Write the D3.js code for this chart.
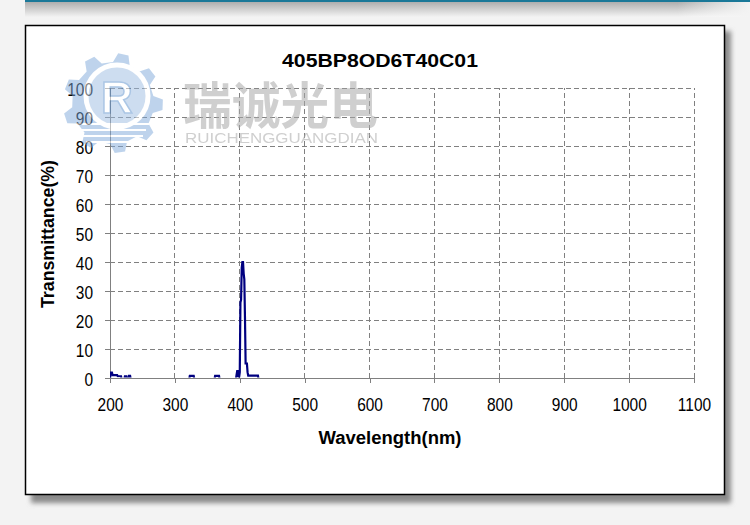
<!DOCTYPE html>
<html><head><meta charset="utf-8">
<script src="https://cdn.jsdelivr.net/npm/d3@7"></script>
<style>html,body{margin:0;padding:0;background:#f3f3f3;overflow:hidden} svg{display:block}</style>
</head><body><svg id="c" width="750" height="525"></svg>
<script>
const chartTitle = "405BP8OD6T40C01";
const xTitle = "Wavelength(nm)";
const yTitle = "Transmittance(%)";
const xTicks = [200, 300, 400, 500, 600, 700, 800, 900, 1000, 1100];
const yTicks = [0, 10, 20, 30, 40, 50, 60, 70, 80, 90, 100];
const wavelength = [200, 201, 203, 204, 211, 212, 217, 218, 222, 223, 225, 226, 228, 229, 231, 232,
  322, 323, 329, 330, 361, 362, 368, 369, 394, 395, 396, 397, 398, 399,
  400, 401, 402, 403, 404, 405, 406, 407, 408, 409, 411, 412, 413, 428, 429, 1100];
const transmittance = [-0.5, 1.9, 1.9, 1.0, 1.0, 0.6, 0.6, -0.5, -0.5, 0.6, 0.6, -0.5, -0.5, 0.7, 0.7, -0.5,
  -0.5, 0.7, 0.7, -0.5, -0.5, 0.7, 0.7, -0.5, -0.5, 1.0, 2.4, 2.4, 0.5, 0.3,
  2, 26, 27, 38, 40, 40, 36, 34, 21, 5, 5, 2, 0.8, 0.8, -0.5, -0.5];
const watermarkCN = "瑞诚光电";
const watermarkEN = "RUICHENGGUANGDIAN";

const svg = d3.select("#c");
const defs = svg.append("defs");

// page background decoration
const tg = defs.append("linearGradient").attr("id","topg").attr("x1",0).attr("y1",0).attr("x2",0).attr("y2",1);
tg.append("stop").attr("offset","0%").attr("stop-color","#a9a9a9");
tg.append("stop").attr("offset","100%").attr("stop-color","#f3f3f3");
const tgh = defs.append("linearGradient").attr("id","topfade").attr("x1",0).attr("y1",0).attr("x2",1).attr("y2",0);
tgh.append("stop").attr("offset","0%").attr("stop-color","#fff").attr("stop-opacity",0);
tgh.append("stop").attr("offset","90%").attr("stop-color","#fff").attr("stop-opacity",0);
tgh.append("stop").attr("offset","100%").attr("stop-color","#f3f3f3").attr("stop-opacity",1);
svg.append("rect").attr("x",0).attr("y",0).attr("width",750).attr("height",525).attr("fill","#f3f3f3");
svg.append("rect").attr("x",25).attr("y",1).attr("width",725).attr("height",16).attr("fill","url(#topg)");
svg.append("rect").attr("x",25).attr("y",1).attr("width",725).attr("height",16).attr("fill","url(#topfade)");
svg.append("rect").attr("x",25).attr("y",0).attr("width",725).attr("height",2).attr("fill","#1a7898");

// frame with shadow
const f = defs.append("filter").attr("id","sh").attr("x","-5%").attr("y","-5%").attr("width","115%").attr("height","120%");
f.append("feGaussianBlur").attr("stdDeviation",2.5);
svg.append("rect").attr("x",31).attr("y",31).attr("width",700).attr("height",472).attr("fill","#8a8a8a").attr("filter","url(#sh)");
svg.append("rect").attr("x",25.5).attr("y",25.5).attr("width",699).attr("height",469)
  .attr("fill","#fff").attr("stroke","#000").attr("stroke-width",1.5);

const x = d3.scaleLinear().domain([200, 1100]).range([110, 694]);
const y = d3.scaleLinear().domain([0, 100]).range([378, 88]);

// gridlines
const grid = svg.append("g");
grid.selectAll("line.h").data(yTicks.filter(d => d > 0)).join("line")
  .attr("x1", x(200)).attr("x2", x(1100)).attr("y1", d => y(d)).attr("y2", d => y(d))
  .attr("stroke","#808080").attr("stroke-width",1).attr("stroke-dasharray","5,3").attr("shape-rendering","crispEdges");
grid.selectAll("line.v").data(xTicks.filter(d => d > 200)).join("line")
  .attr("x1", d => x(d)).attr("x2", d => x(d)).attr("y1", y(0)).attr("y2", y(100))
  .attr("stroke","#808080").attr("stroke-width",1).attr("stroke-dasharray","5,3").attr("shape-rendering","crispEdges");

// axes
const xAxis = svg.append("g").attr("transform", `translate(0,${y(0)})`)
  .call(d3.axisBottom(x).tickValues(xTicks).tickSize(5).tickSizeOuter(0).tickFormat(d3.format("d")));
const yAxis = svg.append("g").attr("transform", `translate(${x(200)},0)`)
  .call(d3.axisLeft(y).tickValues(yTicks).tickSize(5).tickSizeOuter(0).tickFormat(d3.format("d")));
[xAxis, yAxis].forEach(a => {
  a.select(".domain").attr("stroke","#808080").attr("shape-rendering","crispEdges");
  a.selectAll(".tick line").attr("stroke","#808080").attr("shape-rendering","crispEdges");
  a.selectAll(".tick text").attr("fill","#000").attr("font-family","'Liberation Sans', Arial, sans-serif").attr("font-size",18);
});
xAxis.selectAll(".tick text").attr("y",33).attr("dy",0).attr("transform","scale(0.86,1)");
yAxis.selectAll(".tick text").attr("x",-17/0.86).attr("dy","0.4em").attr("transform","scale(0.86,1)");

// watermark (drawn under the data line)
const wm = svg.append("g").attr("opacity",0.5);
const cx = 113, cy = 103, rOut = 50, rIn = 41, teeth = 9;
const gearPts = [];
for (let i = 0; i < teeth; i++) {
  const a0 = (i / teeth) * 2 * Math.PI - Math.PI/2;
  const step = 2 * Math.PI / teeth;
  [[0, rIn],[0.15, rOut],[0.45, rOut],[0.6, rIn]].forEach(([t, r]) => {
    const a = a0 + t * step;
    gearPts.push([cx + r * Math.cos(a), cy + r * Math.sin(a)]);
  });
}
wm.append("path").attr("d", d3.line().curve(d3.curveLinearClosed)(gearPts)).attr("fill","#7fa9da");
wm.append("circle").attr("cx",cx+4).attr("cy",cy-7).attr("r",31).attr("fill","#9dbde3").attr("stroke","#fff").attr("stroke-width",5);
[124,130,136,142].forEach((yy,i) => wm.append("line").attr("x1",cx-36+i*3).attr("x2",cx+36-i*3).attr("y1",yy).attr("y2",yy).attr("stroke","#fff").attr("stroke-width",2));
wm.append("text").attr("x",cx+4).attr("y",cy+10).attr("text-anchor","middle").attr("font-family","'Liberation Sans', Arial, sans-serif")
  .attr("font-weight","bold").attr("font-size",44).attr("fill","#fff").attr("stroke","#5a8fcc").attr("stroke-width",1.5).text("R");
const wm2 = svg.append("g").attr("opacity",0.55);
wm2.append("text").attr("x",183).attr("y",124).attr("font-family","'Noto Sans CJK SC', sans-serif").attr("font-weight","bold")
  .attr("font-size",50).attr("fill","#a8a8a8").attr("textLength",195).attr("lengthAdjust","spacingAndGlyphs").text(watermarkCN);
wm2.append("text").attr("x",185).attr("y",143).attr("font-family","'Liberation Sans', Arial, sans-serif")
  .attr("font-size",15).attr("fill","#a8a8a8").attr("textLength",193).attr("lengthAdjust","spacingAndGlyphs").text(watermarkEN);

// data line
defs.append("clipPath").attr("id","plotclip").append("rect")
  .attr("x", x(200)).attr("y", y(100)).attr("width", x(1100)-x(200)).attr("height", y(0)-y(100)-0.5);
const pts = wavelength.map((w,i) => [w, transmittance[i]]);
svg.append("path").datum(pts).attr("clip-path","url(#plotclip)")
  .attr("d", d3.line().x(d => x(d[0])).y(d => y(d[1])))
  .attr("fill","none").attr("stroke","#000080").attr("stroke-width",2.2).attr("stroke-linejoin","miter");

// titles
svg.append("text").attr("x",380).attr("y",67).attr("text-anchor","middle")
  .attr("font-family","'Liberation Sans', Arial, sans-serif").attr("font-weight","bold").attr("font-size",19)
  .attr("textLength",196).attr("lengthAdjust","spacingAndGlyphs").text(chartTitle);
svg.append("text").attr("x",390).attr("y",444).attr("text-anchor","middle")
  .attr("font-family","'Liberation Sans', Arial, sans-serif").attr("font-weight","bold").attr("font-size",18)
  .attr("textLength",143).attr("lengthAdjust","spacingAndGlyphs").text(xTitle);
svg.append("text").attr("transform","translate(54,234) rotate(-90)").attr("text-anchor","middle")
  .attr("font-family","'Liberation Sans', Arial, sans-serif").attr("font-weight","bold").attr("font-size",18)
  .attr("textLength",148).attr("lengthAdjust","spacingAndGlyphs").text(yTitle);
</script></body></html>
